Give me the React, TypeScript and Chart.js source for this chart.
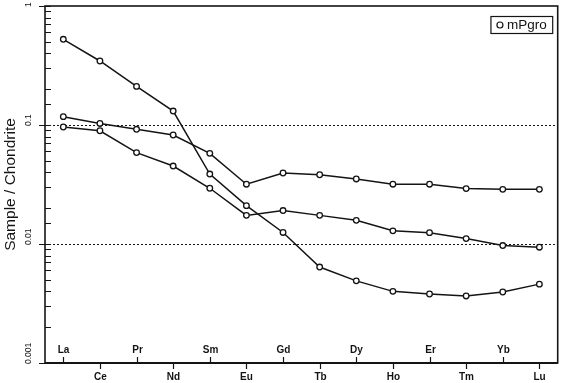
import React, { useEffect, useRef } from 'react';
import { Chart, registerables } from 'chart.js';
Chart.register(...registerables);

const elements = ['La', 'Ce', 'Pr', 'Nd', 'Sm', 'Eu', 'Gd', 'Tb', 'Dy', 'Ho', 'Er', 'Tm', 'Yb', 'Lu'];
const seriesA = [0.525, 0.345, 0.211, 0.131, 0.0387, 0.021, 0.0125, 0.0064, 0.0049, 0.0040, 0.0038, 0.00366, 0.00395, 0.0046];
const seriesB = [0.1175, 0.103, 0.092, 0.0824, 0.0578, 0.0318, 0.0395, 0.0382, 0.0352, 0.0318, 0.0318, 0.0292, 0.0288, 0.0288];
const seriesC = [0.0962, 0.0895, 0.0586, 0.0452, 0.0294, 0.0174, 0.0191, 0.0174, 0.0158, 0.0129, 0.01245, 0.0111, 0.0097, 0.0094];
const yTickValues = [0.001, 0.01, 0.1, 1];
const yTickLabels = ['0.001', '0.01', '0.1', '1'];
const legendLabel = 'mPgro';
const yTitle = 'Sample / Chondrite';

const FONT = '"Liberation Sans", Arial, sans-serif';
const INK = '#141414';

const decorPlugin = {
  id: 'decor',
  beforeDatasetsDraw(chart: any) {
    const { ctx, chartArea } = chart;
    const y = chart.scales.y;
    ctx.save();
    ctx.strokeStyle = INK;
    ctx.lineWidth = 1;
    ctx.setLineDash([2, 2]);
    yTickValues.forEach((v) => {
      if (v <= y.min || v >= y.max) return;
      const py = Math.round(y.getPixelForValue(v)) + 0.5;
      ctx.beginPath();
      ctx.moveTo(chartArea.left, py);
      ctx.lineTo(chartArea.right, py);
      ctx.stroke();
    });
    ctx.restore();
  },
  afterDraw(chart: any) {
    const { ctx, chartArea } = chart;
    const x = chart.scales.x;
    const y = chart.scales.y;
    const { left, right, top, bottom } = chartArea;
    ctx.save();
    ctx.strokeStyle = INK;
    ctx.fillStyle = INK;
    // frame
    ctx.lineWidth = 1.6;
    ctx.setLineDash([]);
    ctx.strokeRect(left, top, right - left, bottom - top);
    ctx.lineWidth = 2;
    ctx.beginPath();
    ctx.moveTo(left, bottom);
    ctx.lineTo(right, bottom);
    ctx.stroke();
    // y ticks: minor inward, major crossing
    ctx.lineWidth = 1;
    (y.ticks || []).forEach((t: any) => {
      if (t.value < y.min || t.value > y.max) return;
      const isMajor = yTickValues.some((v) => Math.abs(v - t.value) / v < 1e-6);
      const py = Math.round(y.getPixelForValue(t.value)) + 0.5;
      ctx.beginPath();
      ctx.moveTo(isMajor ? left - 6 : left, py);
      ctx.lineTo(left + 6, py);
      ctx.stroke();
    });
    // y tick labels rotated
    ctx.font = `8.5px ${FONT}`;
    ctx.textBaseline = 'middle';
    ctx.textAlign = 'left';
    yTickValues.forEach((v, i) => {
      const py = y.getPixelForValue(v);
      ctx.save();
      ctx.translate(29, py + 1);
      ctx.rotate(-Math.PI / 2);
      ctx.fillText(yTickLabels[i], 0, 0);
      ctx.restore();
    });
    // x ticks and labels
    ctx.lineWidth = 1.2;
    ctx.font = `bold 10px ${FONT}`;
    ctx.textAlign = 'center';
    elements.forEach((el, i) => {
      const px = Math.round(x.getPixelForValue(i)) + 0.5;
      ctx.beginPath();
      if (i % 2 === 0) {
        ctx.moveTo(px, bottom);
        ctx.lineTo(px, bottom - 6);
        ctx.stroke();
        ctx.fillText(el, px, bottom - 12.5);
      } else {
        ctx.moveTo(px, bottom);
        ctx.lineTo(px, bottom + 6);
        ctx.stroke();
        ctx.fillText(el, px, bottom + 14);
      }
    });
    // legend
    ctx.font = `13.5px ${FONT}`;
    const tw = ctx.measureText(legendLabel).width;
    const boxR = right - 5;
    const boxT = top + 10.5;
    const boxH = 17;
    const boxW = tw + 22;
    const boxL = boxR - boxW;
    ctx.lineWidth = 1.2;
    ctx.fillStyle = '#fff';
    ctx.fillRect(boxL, boxT, boxW, boxH);
    ctx.strokeRect(boxL, boxT, boxW, boxH);
    ctx.beginPath();
    ctx.arc(boxL + 9, boxT + boxH / 2, 3, 0, Math.PI * 2);
    ctx.stroke();
    ctx.fillStyle = INK;
    ctx.textAlign = 'left';
    ctx.textBaseline = 'middle';
    ctx.fillText(legendLabel, boxL + 16, boxT + boxH / 2 + 0.5);
    ctx.restore();
  },
};

function mkDataset(data: number[], label: string) {
  return {
    label,
    data,
    borderColor: INK,
    borderWidth: 1.5,
    pointRadius: 2.8,
    pointBorderWidth: 1.3,
    pointBorderColor: INK,
    pointBackgroundColor: '#ffffff',
    tension: 0,
    fill: false,
  };
}

export default function App() {
  const ref = useRef<HTMLCanvasElement>(null);
  useEffect(() => {
    if (!ref.current) return;
    const chart = new Chart(ref.current, {
      type: 'line',
      data: {
        labels: elements,
        datasets: [mkDataset(seriesA, legendLabel), mkDataset(seriesB, legendLabel), mkDataset(seriesC, legendLabel)],
      },
      options: {
        animation: false,
        responsive: false,
        maintainAspectRatio: false,
        layout: { padding: { top: 6, right: 4, left: 0, bottom: 0 } },
        plugins: { legend: { display: false }, tooltip: { enabled: false } },
        scales: {
          x: {
            type: 'category',
            offset: true,
            grid: { display: false },
            border: { display: false },
            ticks: { display: false },
            afterFit: (s: any) => { s.height = 20; },
          },
          y: {
            type: 'logarithmic',
            min: 0.001,
            max: 1,
            grid: { display: false },
            border: { display: false },
            ticks: { display: false },
            title: {
              display: true,
              text: yTitle,
              color: INK,
              font: { family: FONT, size: 15.5 },
              padding: { top: 1, bottom: 0 },
            },
            afterFit: (s: any) => { s.width = 45; },
          },
        },
      },
      plugins: [decorPlugin],
    } as any);
    return () => chart.destroy();
  }, []);
  return (
    <div style={{ position: 'fixed', left: 0, top: 0, width: 563, height: 383, background: '#fff' }}>
      <canvas ref={ref} width={563} height={383} style={{ display: 'block' }} />
    </div>
  );
}
